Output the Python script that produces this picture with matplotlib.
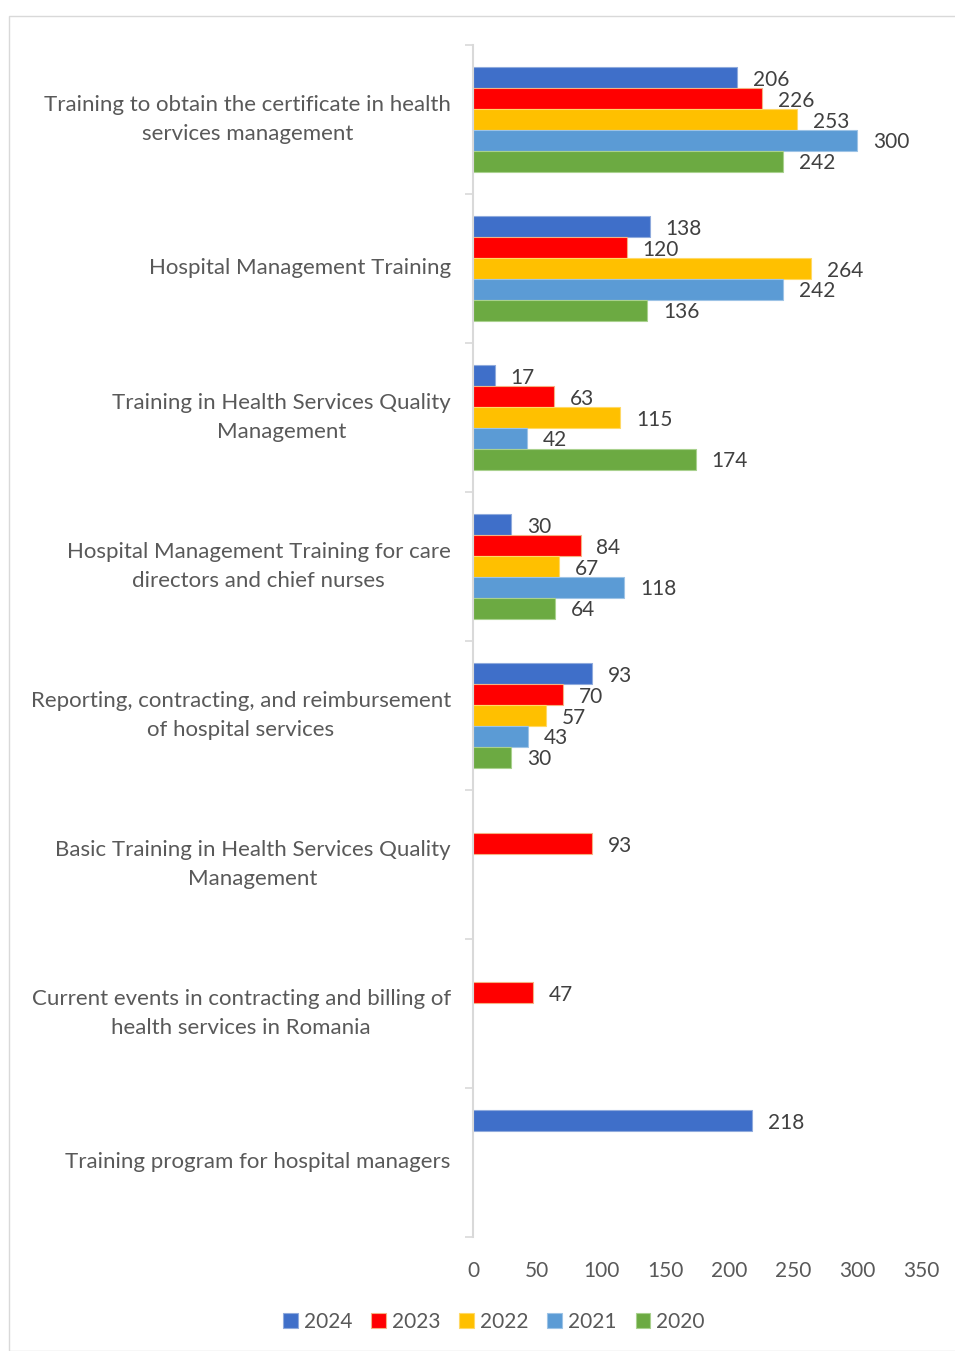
import numpy as np
import matplotlib
matplotlib.use("Agg")
import matplotlib.pyplot as plt
from matplotlib.patches import Rectangle
from matplotlib.transforms import ScaledTranslation

categories = [
    "Training to obtain the certificate in health\nservices management",
    "Hospital Management Training",
    "Training in Health Services Quality\nManagement",
    "Hospital Management Training for care\ndirectors and chief nurses",
    "Reporting, contracting, and reimbursement\nof hospital services",
    "Basic Training in Health Services Quality\nManagement",
    "Current events in contracting and billing of\nhealth services in Romania",
    "Training program for hospital managers",
]
years = ["2024", "2023", "2022", "2021", "2020"]
v2024 = [206, 138, 17, 30, 93, None, None, 218]
v2023 = [226, 120, 63, 84, 70, 93, 47, None]
v2022 = [253, 264, 115, 67, 57, None, None, None]
v2021 = [300, 242, 42, 118, 43, None, None, None]
v2020 = [242, 136, 174, 64, 30, None, None, None]
series = [v2024, v2023, v2022, v2021, v2020]
colors = ["#3F6FC9", "#FF0000", "#FFC000", "#5B9BD5", "#6CAA42"]
edges = ["#8FAADC", "#F4B183", "#FFD966", "#9DC3E6", "#A9D18E"]
xticks = [0, 50, 100, 150, 200, 250, 300, 350]

plt.rcParams['font.family'] = ['Lato', 'DejaVu Sans']
W, H = 955, 1351
fig = plt.figure(figsize=(W / 100, H / 100), dpi=100)
fig.patches.append(Rectangle((9 / W, 0), 2, 1 - 16 / H, transform=fig.transFigure,
                             fill=False, edgecolor="#D9D9D9", linewidth=1.0))
ax = fig.add_axes([473 / W, 1 - 1237 / H, (921 - 473) / W, (1237 - 45) / H])

n = len(categories)
bh = 0.14
for j, (vals, c, ec, yr) in enumerate(zip(series, colors, edges, years)):
    ys, ws = [], []
    for i, v in enumerate(vals):
        if v is None:
            continue
        ys.append(i + (j - 2) * bh)
        ws.append(v)
    ax.barh(ys, ws, height=bh, color=c, edgecolor=ec, linewidth=0.8, label=yr)
    for y, w in zip(ys, ws):
        ax.annotate(str(w), (w, y), xytext=(11.5, -1.5), textcoords="offset points",
                    va="center", ha="left", fontsize=15, color="#404040")

ax.set_xlim(0, 350)
ax.set_ylim(n - 0.5, -0.5)
ax.set_xticks(xticks)
ax.set_xticklabels([str(t) for t in xticks], fontsize=15, color="#595959")
ax.set_yticks(range(n))
ax.set_yticklabels(categories, fontsize=16, color="#595959", multialignment="center",
                   linespacing=1.6, va="center")
shift = ScaledTranslation(0, -2 / 100, fig.dpi_scale_trans)
for lab in ax.get_yticklabels():
    lab.set_transform(lab.get_transform() + shift)
ax.set_yticks(np.arange(-0.5, n, 1.0), minor=True)
ax.tick_params(axis="y", which="major", length=0, pad=16)
ax.tick_params(axis="y", which="minor", length=6, color="#D9D9D9", width=1.2)
ax.tick_params(axis="x", length=0, pad=17)
for s in ["top", "right", "bottom"]:
    ax.spines[s].set_visible(False)
ax.spines["left"].set_color("#D9D9D9")
ax.spines["left"].set_linewidth(1.5)

handles, labels = ax.get_legend_handles_labels()
fig.legend(handles, labels, loc="center", bbox_to_anchor=(494 / W, 1 - 1322 / H), ncol=5,
           frameon=False, fontsize=15, labelcolor="#595959", handlelength=0.7,
           handleheight=0.7, handletextpad=0.3, columnspacing=0.9)

fig.savefig("out.png", dpi=100, facecolor="white")
